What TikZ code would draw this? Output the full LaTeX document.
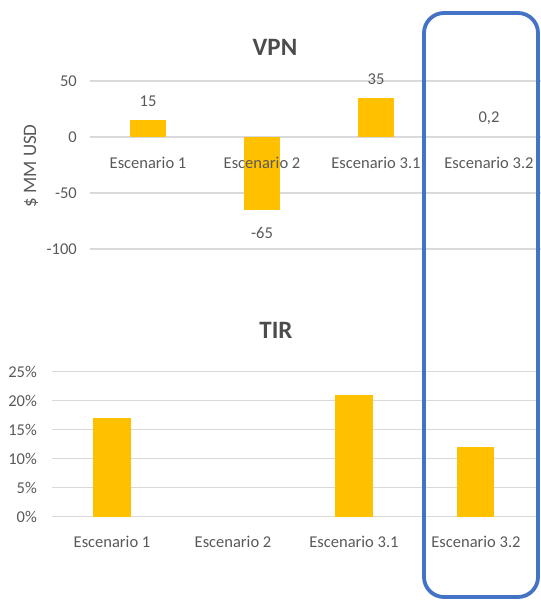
\documentclass[tikz,border=0pt]{standalone}
\usepackage{fontspec}
\setmainfont{Carlito}
\usetikzlibrary{calc}
\definecolor{barra}{HTML}{FFC000}
\definecolor{rejilla}{HTML}{D9D9D9}
\definecolor{texto}{HTML}{595959}
\definecolor{marco}{HTML}{4472C4}
\tikzset{barra/.style={fill=barra,draw=none},%
  rejilla/.style={draw=rejilla,line width=1.5pt},%
  etiq/.style={text=texto,font=\fontsize{16.5}{19}\selectfont,inner sep=0pt},%
  titulo/.style={text=texto!85!black,font=\fontsize{25}{30}\selectfont\bfseries,inner sep=0pt}}

\begin{document}
\begin{tikzpicture}[x=1pt,y=-1pt]
      \useasboundingbox (0,0) rectangle (541,600);
      % VPN
      \node[titulo] (tvpn) at (275,47) {VPN};
      \foreach \v/\y in {50/81.1,0/137,-50/192.9,-100/248.8} {
        \draw[rejilla] (90,\y) -- (541,\y);
        \node[etiq,anchor=east] (yv\v) at (77,\y) {\v};}
      \node[etiq,rotate=90,font=\fontsize{19}{22}\selectfont] (ejev) at (31,166) {\$ MM USD};
      \fill[barra] (130,137) rectangle (166,120.2);
      \fill[barra] (244,137) rectangle (280,209.7);
      \fill[barra] (358,137) rectangle (394,97.9);
      \node[etiq] (v1) at (148,101) {15};
      \node[etiq] (v2) at (262,233) {-65};
      \node[etiq] (v3) at (376,79) {35};
      \node[etiq] (v4) at (489,118) {0,2};
      \foreach \n/\x in {1/148,2/262,3.1/376,3.2/489}
        \node[etiq] (cv\n) at (\x,163) {Escenario \n};
      % TIR
      \node[titulo] (ttir) at (276,330) {TIR};
      \foreach \p in {0,5,...,25} {
        \draw[rejilla] (52,516.7-5.8*\p) -- (537,516.7-5.8*\p);
        \node[etiq,anchor=east] (yt\p) at (37,516.7-5.8*\p) {\p\%};}
      \fill[barra] (93,516.7) rectangle (131,418.1);
      \fill[barra] (335,516.7) rectangle (373,394.9);
      \fill[barra] (457,516.7) rectangle (494,447.1);
      \foreach \n/\x in {1/112,2/233,3.1/354,3.2/476}
        \node[etiq] (ct\n) at (\x,542) {Escenario \n};
      % marco
      \draw[marco,line width=3.8pt,rounded corners=20pt] (424,13) rectangle (538,597);
\end{tikzpicture}
\end{document}
